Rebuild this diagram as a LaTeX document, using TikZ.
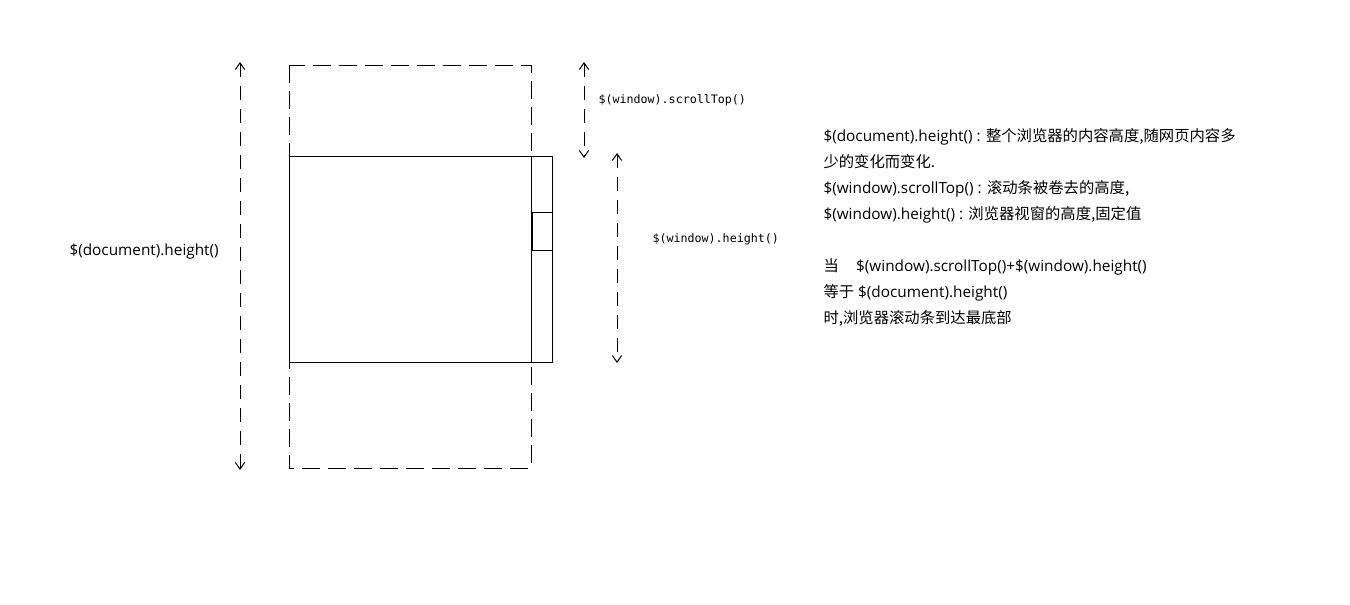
\documentclass[tikz,border=0pt]{standalone}
\usepackage{fontspec}
\setmainfont{Open Sans}
\newfontfamily\cjk{Noto Sans CJK SC}
\newfontfamily\monof{DejaVu Sans Mono}
\usetikzlibrary{arrows.meta}
\begin{document}
\begin{tikzpicture}[x=0.75pt,y=-0.75pt,line width=0.75pt,
  tipbarb/.tip={Straight Barb[length=5pt,width=7pt]},
  dimarrow/.style={dash pattern=on 10.5pt off 6.75pt,tipbarb-tipbarb},
  docdash/.style={dash pattern=on 13.5pt off 6pt},
  monolabel/.style={font=\monof\fontsize{8.75pt}{10pt}\selectfont,anchor=base west,inner sep=0pt},
  desc/.style={font=\fontsize{11.5pt}{14pt}\selectfont,anchor=base west,inner sep=0pt}]
\useasboundingbox (0,0) rectangle (1350,604);
% document (dashed)
\coordinate (docTL) at (289,65);
\coordinate (docBR) at (531,468);
\draw[docdash] (docTL) rectangle (docBR);
% window (solid)
\coordinate (winTL) at (289,156);
\coordinate (winBR) at (552,362);
\coordinate (barT) at (531,156);
\coordinate (barB) at (531,362);
\draw (winTL) rectangle (winBR);
\draw (barT) -- (barB);
% scroll thumb
\coordinate (thTL) at (531,212);
\coordinate (thBR) at (552,250);
\coordinate (thBL) at (532,250);
\coordinate (thTLb) at (532,212);
\draw (thTL) rectangle (thBR);
\draw[line width=1.8pt] (thTLb) -- (thBL);
% dimension arrows
\coordinate (dA) at (240,62);
\coordinate (dB) at (240,470);
\draw[dimarrow] (dA) -- (dB);
\coordinate (sA) at (584,62);
\coordinate (sB) at (584,158);
\draw[dimarrow] (sA) -- (sB);
\coordinate (hA) at (617,153);
\coordinate (hB) at (617,363);
\draw[dimarrow] (hA) -- (hB);
% labels
\node[desc] (doclbl) at (69,255) {\$(document).height()};
\node[monolabel] (scrlbl) at (598,103) {\$(window).scrollTop()};
\node[monolabel] (hlbl) at (652,242) {\$(window).height()};
% description
\node[desc] (d1) at (823,141) {\$(document).height() : {\cjk 整个浏览器的内容高度,随网页内容多}};
\node[desc] (d2) at (823,167) {{\cjk 少的变化而变化.}};
\node[desc] (d3) at (823,193) {\$(window).scrollTop() : {\cjk 滚动条被卷去的高度,}};
\node[desc] (d4) at (823,219) {\$(window).height() : {\cjk 浏览器视窗的高度,固定值}};
\node[desc] (d5) at (823,271) {{\cjk 当}\hspace{13pt}\$(window).scrollTop()+\$(window).height()};
\node[desc] (d6) at (823,297) {{\cjk 等于} \$(document).height()};
\node[desc] (d7) at (823,323) {{\cjk 时,浏览器滚动条到达最底部}};
\end{tikzpicture}
\end{document}
